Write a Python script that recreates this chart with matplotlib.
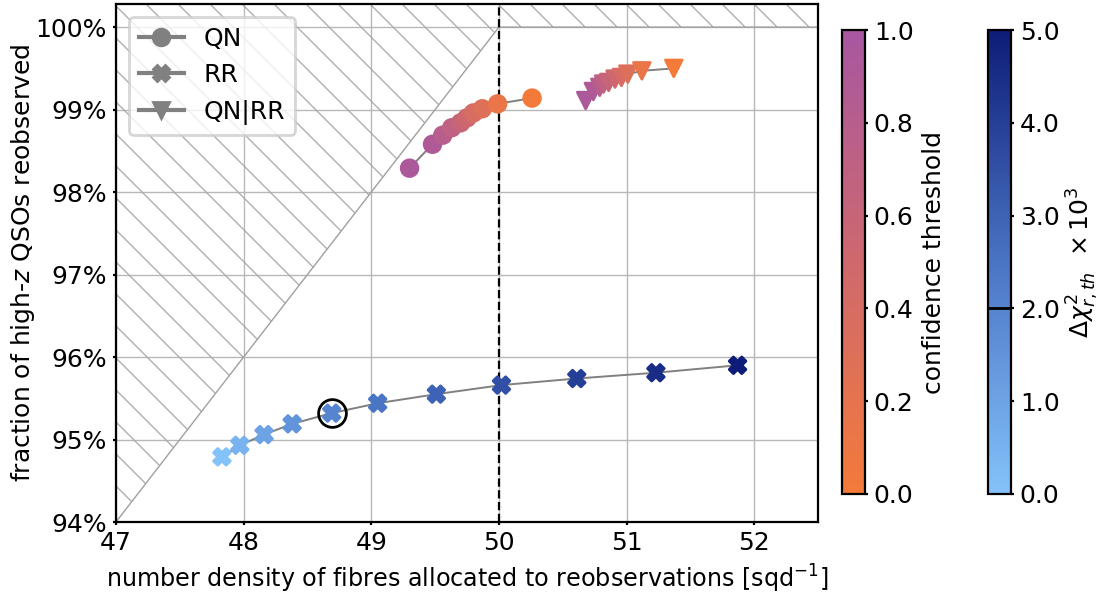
import numpy as np
import matplotlib
matplotlib.use("Agg")
import matplotlib.pyplot as plt
from matplotlib.lines import Line2D
from matplotlib.collections import LineCollection
from matplotlib.transforms import IdentityTransform
from matplotlib.colors import LinearSegmentedColormap, Normalize
from matplotlib.cm import ScalarMappable
from matplotlib.ticker import PercentFormatter, FormatStrFormatter

# QN: confidence threshold scan
qn_thresh = [0.95, 0.9, 0.8, 0.7, 0.6, 0.5, 0.4, 0.3, 0.15, 0.0]
qn_x = [49.30, 49.48, 49.56, 49.63, 49.70, 49.75, 49.80, 49.87, 49.99, 50.26]
qn_y = [98.29, 98.58, 98.69, 98.78, 98.84, 98.90, 98.96, 99.01, 99.07, 99.14]

# QN|RR: confidence threshold scan
qnrr_thresh = [0.95, 0.9, 0.8, 0.7, 0.6, 0.5, 0.4, 0.3, 0.15, 0.0]
qnrr_x = [50.68, 50.74, 50.79, 50.82, 50.86, 50.91, 50.96, 51.01, 51.12, 51.37]
qnrr_y = [99.11, 99.22, 99.27, 99.31, 99.33, 99.37, 99.39, 99.43, 99.47, 99.50]

# RR: delta chi2 threshold scan (x 10^3)
rr_dchi2 = [0.0, 0.5, 1.0, 1.5, 2.0, 2.5, 3.0, 3.5, 4.0, 4.5, 5.0]
rr_x = [47.83, 47.97, 48.16, 48.38, 48.69, 49.05, 49.51, 50.02, 50.61, 51.23, 51.87]
rr_y = [94.79, 94.93, 95.06, 95.19, 95.32, 95.44, 95.55, 95.66, 95.74, 95.81, 95.90]
rr_chosen = 2.0

# excluded region: above this boundary is unreachable
excl_x = [47, 50, 52.5]
excl_y = [94, 100, 100]

plt.rcParams['font.size'] = 9

cmap_conf = LinearSegmentedColormap.from_list('conf', ['#f47a3a', '#a857a1'])
cmap_dchi = LinearSegmentedColormap.from_list('dchi', ['#84c2fa', '#4a74c4', '#0d1c78'])
norm_conf = Normalize(0, 1)
norm_dchi = Normalize(0, 5)

fig = plt.figure(figsize=(5.545, 2.97), dpi=200)
ax = fig.add_axes([0.1046, 0.1212, 0.633, 0.872])

# hatched excluded region
excl = ax.fill_between(excl_x, excl_y, 101, facecolor='none',
                       edgecolor='#a0a0a0', linewidth=0.5, zorder=1)
W, H = fig.bbox.width, fig.bbox.height
step = 32
segs = [[(x0, H), (x0 + H, 0)] for x0 in np.arange(-H, W + step, step)]
hatch = LineCollection(segs, colors='#a8a8a8', linewidths=0.45,
                       transform=IdentityTransform(), zorder=1)
ax.add_collection(hatch, autolim=False)
hatch.set_clip_path(excl.get_paths()[0], ax.transData)

ax.axvline(50, color='k', ls='--', lw=0.8, zorder=2)

ms = 6
ax.plot(qn_x, qn_y, color='gray', lw=0.7, zorder=3)
ax.scatter(qn_x, qn_y, c=qn_thresh, cmap=cmap_conf, norm=norm_conf, marker='o', s=ms**2, zorder=4)
ax.plot(qnrr_x, qnrr_y, color='gray', lw=0.7, zorder=3)
ax.scatter(qnrr_x, qnrr_y, c=qnrr_thresh, cmap=cmap_conf, norm=norm_conf, marker='v', s=ms**2, zorder=4)
ax.plot(rr_x, rr_y, color='gray', lw=0.7, zorder=3)
ax.scatter(rr_x, rr_y, c=rr_dchi2, cmap=cmap_dchi, norm=norm_dchi, marker='X', s=ms**2, zorder=4)

i_sel = rr_dchi2.index(rr_chosen)
ax.plot(rr_x[i_sel], rr_y[i_sel], 'o', mfc='none', mec='k', ms=10, mew=1.0, zorder=5)

ax.set_xlim(47, 52.5)
ax.set_ylim(94, 100.28)
ax.set_yticks(np.arange(94, 101, 1))
ax.yaxis.set_major_formatter(PercentFormatter(decimals=0))
ax.grid(True, color='#b8b8b8', lw=0.5, zorder=0)
ax.set_axisbelow(True)
ax.tick_params(length=1.2, pad=2)
ax.set_xlabel('number density of fibres allocated to reobservations [sqd$^{-1}$]', fontsize=8.6, labelpad=3)
ax.set_ylabel('fraction of high-$z$ QSOs reobserved', labelpad=-0.5)

ax.legend(handles=[
    Line2D([0], [0], color='gray', marker='o', ms=ms, label='QN'),
    Line2D([0], [0], color='gray', marker='X', ms=ms, label='RR'),
    Line2D([0], [0], color='gray', marker='v', ms=ms, label='QN|RR'),
], loc='upper left', handlelength=1.8)

cax1 = fig.add_axes([0.7592, 0.1684, 0.0207, 0.781])
cb1 = fig.colorbar(ScalarMappable(norm=norm_conf, cmap=cmap_conf), cax=cax1)
cb1.ax.tick_params(length=1.2, pad=2)
cb1.set_label('confidence threshold', labelpad=3)

cax2 = fig.add_axes([0.8909, 0.1684, 0.0207, 0.781])
cb2 = fig.colorbar(ScalarMappable(norm=norm_dchi, cmap=cmap_dchi), cax=cax2)
cb2.set_ticks([0, 1, 2, 3, 4, 5])
cb2.ax.yaxis.set_major_formatter(FormatStrFormatter('%.1f'))
cb2.ax.tick_params(length=1.2, pad=2)
cb2.ax.axhline(rr_chosen, color='k', lw=1)
cb2.set_label(r'$\Delta\chi^2_{r,th}$  $\times\,10^3$', labelpad=2)

fig.savefig('out.png', dpi=200)
